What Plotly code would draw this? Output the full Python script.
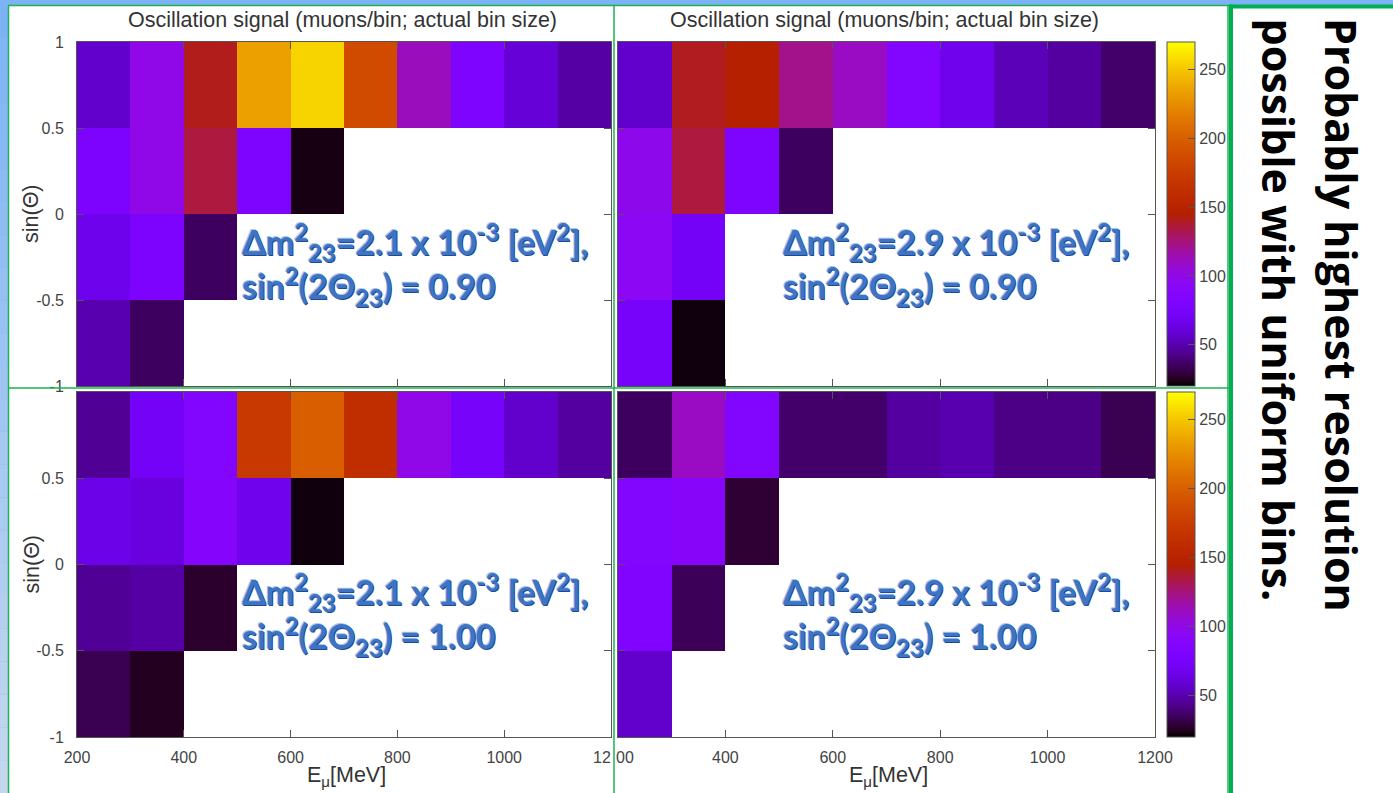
import math
import plotly.graph_objects as go

W, H = 1393, 793

# ---------------- data ----------------
E_EDGES = [200, 300, 400, 500, 600, 700, 800, 900, 1000, 1100, 1200]   # E_mu bin edges [MeV]
SIN_EDGES = [-1.0, -0.5, 0.0, 0.5, 1.0]                                 # sin(Theta) bin edges
X_TICKS = [200, 400, 600, 800, 1000, 1200]
Y_TICKS = [-1, -0.5, 0, 0.5, 1]
CBAR_TICKS = [50, 100, 150, 200, 250]
Z_MIN, Z_MAX = 20, 270

N = None
# rows from sin(Theta) = -1 upwards; columns from 200 MeV upwards (muons/bin)
dm21_s090 = [
    [50, 35, N, N, N, N, N, N, N, N],
    [67, 80, 35, N, N, N, N, N, N, N],
    [80, 100, 135, 82, 23, N, N, N, N, N],
    [57, 100, 141, 234, 255, 186, 112, 82, 60, 48],
]
dm29_s090 = [
    [75, 22, N, N, N, N, N, N, N, N],
    [95, 72, N, N, N, N, N, N, N, N],
    [98, 135, 82, 35, N, N, N, N, N, N],
    [57, 140, 145, 122, 110, 85, 68, 52, 47, 37],
]
dm21_s100 = [
    [33, 25, N, N, N, N, N, N, N, N],
    [45, 48, 27, N, N, N, N, N, N, N],
    [65, 62, 88, 68, 22, N, N, N, N, N],
    [45, 72, 85, 172, 199, 162, 100, 75, 57, 47],
]
dm29_s100 = [
    [57, N, N, N, N, N, N, N, N, N],
    [83, 34, N, N, N, N, N, N, N, N],
    [85, 90, 28, N, N, N, N, N, N, N],
    [35, 110, 85, 37, 37, 47, 50, 42, 42, 33],
]

PANEL_TITLE = "Oscillation signal (muons/bin; actual bin size)"
LABELS = [
    ("2.1", "0.90"),
    ("2.9", "0.90"),
    ("2.1", "1.00"),
    ("2.9", "1.00"),
]
SIDE_LINES = ["Probably highest resolution", "possible with uniform bins."]


# ---------------- helpers ----------------
def px(x):
    return x / W


def py(y):
    return 1 - y / H


def gnuplot_rgb(t):
    r = math.sqrt(t)
    g = t ** 3
    b = max(0.0, math.sin(2 * math.pi * t))
    return f"rgb({round(255*r)},{round(255*g)},{round(255*b)})"


COLORSCALE = [[i / 60, gnuplot_rgb(i / 60)] for i in range(61)]

AX_COL = "#555555"
TICK_FONT = dict(family="Liberation Sans, Arial, sans-serif", size=16, color="#444444")
TITLE_FONT = dict(family="Liberation Sans, Arial, sans-serif", size=21.5, color="#333333")

# panel plot areas in pixels: (left, right, top, bottom)
PANELS = [
    (77, 611, 42, 386),
    (618, 1155, 42, 386),
    (77, 611, 392, 737),
    (618, 1155, 392, 737),
]
DATA = [dm21_s090, dm29_s090, dm21_s100, dm29_s100]

fig = go.Figure()

for i, z in enumerate(DATA):
    k = "" if i == 0 else str(i + 1)
    fig.add_trace(go.Heatmap(
        x=E_EDGES, y=SIN_EDGES, z=z,
        coloraxis="coloraxis" if i < 2 else "coloraxis2",
        xaxis="x" + k, yaxis="y" + k,
        hoverongaps=False,
    ))

layout = {}
for i, (l, r, t, b) in enumerate(PANELS):
    k = "" if i == 0 else str(i + 1)
    bottom = i >= 2
    left = i % 2 == 0
    if bottom and left:
        xt = [str(v) for v in X_TICKS[:-1]] + [""]
    elif bottom:
        xt = [""] + [str(v) for v in X_TICKS[1:]]
    else:
        xt = [str(v) for v in X_TICKS]
    if bottom:
        yt = ["-1", "-0.5", "0", "0.5", ""]
    else:
        yt = ["-1", "-0.5", "0", "0.5", "1"]
    layout["xaxis" + k] = dict(
        domain=[px(l), px(r)], anchor="y" + k, range=[200, 1200],
        tickvals=X_TICKS, ticktext=xt, showticklabels=bottom,
        ticks="inside", ticklen=7, tickcolor=AX_COL, tickwidth=1,
        showline=True, linecolor=AX_COL, linewidth=1, mirror="ticks",
        showgrid=False, zeroline=False, tickfont=TICK_FONT,
        ticklabelstandoff=6, automargin=False,
    )
    layout["yaxis" + k] = dict(
        domain=[py(b), py(t)], anchor="x" + k, range=[-1, 1],
        tickvals=Y_TICKS, ticktext=yt, showticklabels=left,
        ticks="inside", ticklen=7, tickcolor=AX_COL, tickwidth=1,
        showline=True, linecolor=AX_COL, linewidth=1, mirror="ticks",
        showgrid=False, zeroline=False, tickfont=TICK_FONT,
        ticklabelstandoff=9, automargin=False,
    )


def cbar(t, b):
    return dict(
        x=px(1167), xanchor="left", xpad=0, ypad=0,
        y=(py(t) + py(b)) / 2, yanchor="middle", len=(b - t) / H, lenmode="fraction",
        thickness=28, thicknessmode="pixels",
        outlinewidth=1, outlinecolor=AX_COL,
        tickvals=CBAR_TICKS, ticks="inside", ticklen=7, tickcolor=AX_COL,
        tickfont=TICK_FONT,
    )


layout["coloraxis"] = dict(colorscale=COLORSCALE, cmin=Z_MIN, cmax=Z_MAX, colorbar=cbar(42, 386))
layout["coloraxis2"] = dict(colorscale=COLORSCALE, cmin=Z_MIN, cmax=Z_MAX, colorbar=cbar(392, 737))

# ---------------- background / frame shapes ----------------
GREEN = "#1bb154"
BOLD_GREEN = "#00b050"
shapes = []
# light-blue slide background strip on the left (vertical gradient)
top_c = (125, 179, 246)
bot_c = (196, 215, 238)
nb = 24
for j in range(nb):
    f = j / (nb - 1)
    c = tuple(round(top_c[m] + (bot_c[m] - top_c[m]) * f) for m in range(3))
    shapes.append(dict(type="rect", xref="paper", yref="paper", layer="below",
                       x0=0, x1=px(8), y0=py(5 + (H - 5) * (j + 1) / nb), y1=py(5 + (H - 5) * j / nb),
                       line=dict(width=0), fillcolor=f"rgb{c}"))
shapes.append(dict(type="rect", xref="paper", yref="paper", layer="below",
                   x0=px(8), x1=1, y0=0, y1=py(5), line=dict(width=0), fillcolor="white"))
# thin green frame lines
for (x0, y0, x1, y1) in [(8.5, 5.5, 8.5, H), (8, 5.5, 1229, 5.5), (614, 5, 614, H),
                         (8, 388, 1229, 388), (1228, 5, 1228, H)]:
    shapes.append(dict(type="line", xref="paper", yref="paper", layer="above",
                       x0=px(x0), x1=px(x1), y0=py(y0), y1=py(y1),
                       line=dict(color=GREEN, width=1.5)))
# bold green box of the side text
shapes.append(dict(type="line", xref="paper", yref="paper", layer="above",
                   x0=px(1231), x1=px(1231), y0=0, y1=py(4.5), line=dict(color=BOLD_GREEN, width=4)))
shapes.append(dict(type="line", xref="paper", yref="paper", layer="above",
                   x0=px(1229), x1=1, y0=py(6.5), y1=py(6.5), line=dict(color=BOLD_GREEN, width=4)))

# ---------------- text ----------------
ann = []
for i in (0, 1):
    l, r, t, b = PANELS[i]
    ann.append(dict(text=PANEL_TITLE, xref="paper", yref="paper", x=px((l + r) / 2 - 2), y=py(20),
                    xanchor="center", yanchor="middle", showarrow=False, font=TITLE_FONT))
for i in (0, 2):
    l, r, t, b = PANELS[i]
    ann.append(dict(text="sin(Θ)", xref="paper", yref="paper", x=px(31), y=py((t + b) / 2),
                    textangle=-90, xanchor="center", yanchor="middle", showarrow=False, font=TITLE_FONT))
for i in (2, 3):
    l, r, t, b = PANELS[i]
    ann.append(dict(text="E<sub>μ</sub>[MeV]", xref="paper", yref="paper", x=px((l + r) / 2 + 2), y=py(776),
                    xanchor="center", yanchor="middle", showarrow=False, font=TITLE_FONT))
# tick labels cut by the panel seam
ann.append(dict(text="12", xref="x3", yref="paper", x=1200, y=py(757), xanchor="right", xshift=2,
                yanchor="middle", showarrow=False, font=TICK_FONT))
ann.append(dict(text="00", xref="x4", yref="paper", x=200, y=py(757), xanchor="left", xshift=-4,
                yanchor="middle", showarrow=False, font=TICK_FONT))

BLUE_FONT = dict(family="Lato, 'Open Sans', sans-serif", size=34, color="#3f74c4", weight="bold",
                 shadow="1px 1px 0px #1d4c97, -1px -1px 0px #a9c8f0")
for i, (dm, s2) in enumerate(LABELS):
    l, r, t, b = PANELS[i]
    text = (f"Δm<sup>2</sup><sub>23</sub>={dm} x 10<sup>-3</sup> [eV<sup>2</sup>],<br>"
            f"sin<sup>2</sup>(2Θ<sub>23</sub>) = {s2}")
    ann.append(dict(text=text, xref="paper", yref="paper", x=px(l + 163), y=py(t + 223),
                    xanchor="left", yanchor="middle", align="left", showarrow=False, font=BLUE_FONT))

SIDE_FONT = dict(family="'Open Sans', Lato, sans-serif", size=43, color="#000000", weight="bold")
for xc, line in zip([1342, 1278], SIDE_LINES):
    ann.append(dict(text=line, xref="paper", yref="paper", x=px(xc), y=py(16), textangle=90,
                    xanchor="center", yanchor="top", showarrow=False, font=SIDE_FONT))

fig.update_layout(
    **layout,
    width=W, height=H, margin=dict(l=0, r=0, t=0, b=0),
    paper_bgcolor="rgb(125,179,246)", plot_bgcolor="white",
    shapes=shapes, annotations=ann, showlegend=False, template="none",
)

fig.write_html("out.html", config={"displayModeBar": False},
               post_script="document.body.style.margin='0';document.body.style.overflow='hidden';")
